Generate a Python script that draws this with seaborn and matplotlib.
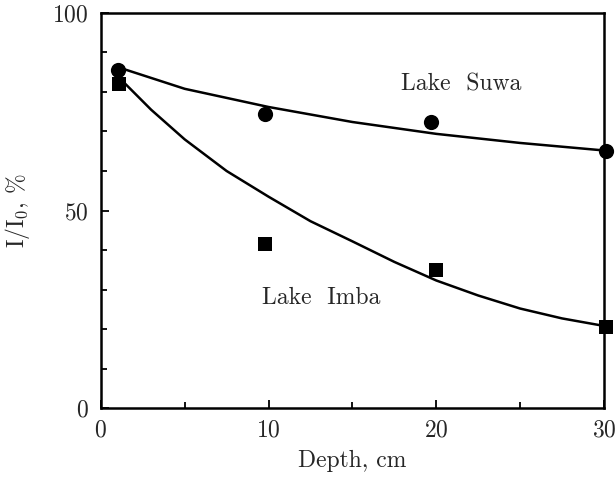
import matplotlib
matplotlib.use("Agg")
import matplotlib.pyplot as plt
import seaborn as sns
import pandas as pd
from matplotlib.ticker import MultipleLocator

# Measured points
suwa_depth = [1.0, 9.8, 19.7, 30.1]
suwa_val = [85.5, 74.5, 72.5, 65.0]
imba_depth = [1.1, 9.8, 20.0, 30.1]
imba_val = [82.0, 41.5, 35.0, 20.5]

# Fitted curves
suwa_fit_depth = [1, 5, 10, 15, 20, 25, 30]
suwa_fit_val = [86.3, 80.8, 76.2, 72.4, 69.4, 67.1, 65.2]
imba_fit_depth = [1, 3, 5, 7.5, 10, 12.5, 15, 17.5, 20, 22.5, 25, 27.5, 30]
imba_fit_val = [84.0, 75.5, 68.0, 60.0, 53.5, 47.3, 42.2, 37.0, 32.3, 28.5, 25.2, 22.7, 20.8]

sns.set_style("ticks")
plt.rcParams['font.family'] = ['cmr10', 'DejaVu Serif']
plt.rcParams['mathtext.fontset'] = 'cm'
plt.rcParams['axes.formatter.use_mathtext'] = True

fig = plt.figure(figsize=(6.15, 4.79), dpi=100)
ax = fig.add_axes([0.164, 0.148, 0.818, 0.825])

fit_s = pd.DataFrame({"d": suwa_fit_depth, "v": suwa_fit_val})
fit_i = pd.DataFrame({"d": imba_fit_depth, "v": imba_fit_val})
pts_s = pd.DataFrame({"d": suwa_depth, "v": suwa_val})
pts_i = pd.DataFrame({"d": imba_depth, "v": imba_val})

sns.lineplot(data=fit_s, x="d", y="v", ax=ax, color="black", lw=1.8, sort=True)
sns.lineplot(data=fit_i, x="d", y="v", ax=ax, color="black", lw=1.8, sort=True)
sns.scatterplot(data=pts_s, x="d", y="v", ax=ax, color="black", marker="o", s=120,
                edgecolor="black", linewidth=0, clip_on=False, zorder=5)
sns.scatterplot(data=pts_i, x="d", y="v", ax=ax, color="black", marker="s", s=100,
                edgecolor="black", linewidth=0, clip_on=False, zorder=5)

ax.set_xlim(0, 30)
ax.set_ylim(0, 100)
ax.xaxis.set_major_locator(MultipleLocator(10))
ax.xaxis.set_minor_locator(MultipleLocator(5))
ax.yaxis.set_major_locator(MultipleLocator(50))
ax.yaxis.set_minor_locator(MultipleLocator(10))
ax.tick_params(which="both", direction="in", top=False, right=False, labelsize=17,
               width=1.3, color="black")
ax.tick_params(which="major", length=6)
ax.tick_params(axis="x", which="major", pad=8)
ax.tick_params(axis="y", which="major", pad=9)
ax.tick_params(which="minor", length=4)
for sp in ax.spines.values():
    sp.set_linewidth(1.8)
    sp.set_color("black")

ax.set_xlabel("Depth, cm", fontsize=17, labelpad=6)
ax.set_ylabel(r"I/I$_0$, %", fontsize=17, labelpad=14)

ax.text(17.9, 82, "Lake  Suwa", fontsize=17, va="center", ha="left")
ax.text(9.6, 27.8, "Lake  Imba", fontsize=17, va="center", ha="left")

fig.savefig("out.png", dpi=100)
